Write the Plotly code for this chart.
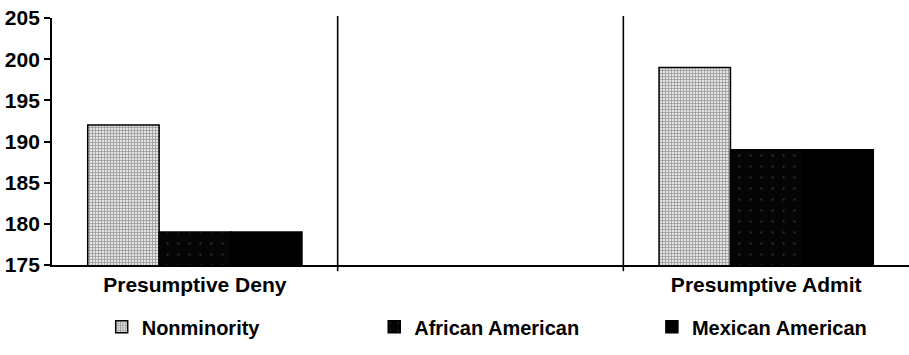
import plotly.graph_objects as go

# Admission score by decision group and applicant group
categories = ["Presumptive Deny", "", "Presumptive Admit"]
groups = ["Nonminority", "African American", "Mexican American"]
nonminority = [192, None, 199]
african_american = [179, None, 189]
mexican_american = [179, None, 189]
y_ticks = [175, 180, 185, 190, 195, 200, 205]

series = [nonminority, african_american, mexican_american]
positions = list(range(len(categories)))

styles = [
    dict(color="#a0a0a0",
         pattern=dict(shape="+", fgcolor="#4a4a4a", bgcolor="#e4e4e4", size=3, solidity=0.45)),
    dict(color="#0a0a0a",
         pattern=dict(shape=".", fgcolor="#4a4a4a", bgcolor="#050505", size=11, solidity=0.04)),
    dict(color="#000000"),
]
legend_ids = ["legend", "legend2", "legend3"]
legend_x = [0.058, 0.376, 0.70]

FONT = "Liberation Sans, Arial, sans-serif"

fig = go.Figure()
for name, vals, st, lg in zip(groups, series, styles, legend_ids):
    fig.add_trace(go.Bar(
        x=positions, y=vals, name=name, legend=lg,
        marker=dict(line=dict(color="black", width=1.5), **st),
    ))

# vertical separators between the category slots
for b in [0.5, 1.5]:
    fig.add_shape(type="line", xref="x", yref="paper", x0=b, x1=b, y0=-0.025, y1=1.008,
                  line=dict(color="black", width=1.6))

legend_style = dict(orientation="h", xanchor="left", y=-0.25, yanchor="middle",
                    font=dict(family=FONT, size=20, weight="bold"), bgcolor="rgba(0,0,0,0)")

fig.update_layout(
    width=909, height=355,
    margin=dict(l=52, r=0, t=18, b=90, autoexpand=False),
    paper_bgcolor="white", plot_bgcolor="white",
    barmode="group", bargap=0.25, bargroupgap=0,
    font=dict(family=FONT, size=19, color="black"),
    showlegend=True,
    **{lg: dict(x=lx, **legend_style) for lg, lx in zip(legend_ids, legend_x)},
)
fig.update_xaxes(
    range=[-0.5, 2.5], tickmode="array", tickvals=positions, ticktext=categories,
    showline=True, linecolor="black", linewidth=1.6, ticks="", showgrid=False, zeroline=False,
    tickfont=dict(family=FONT, size=21, weight="bold"),
)
fig.update_yaxes(
    range=[175, 205], tickvals=y_ticks, showline=True, linecolor="black", linewidth=1.8,
    ticks="outside", ticklen=6, tickwidth=1.5, tickcolor="black", showgrid=False, zeroline=False,
    tickfont=dict(family=FONT, size=21, weight="bold"),
)

fig.write_html("out.html")
